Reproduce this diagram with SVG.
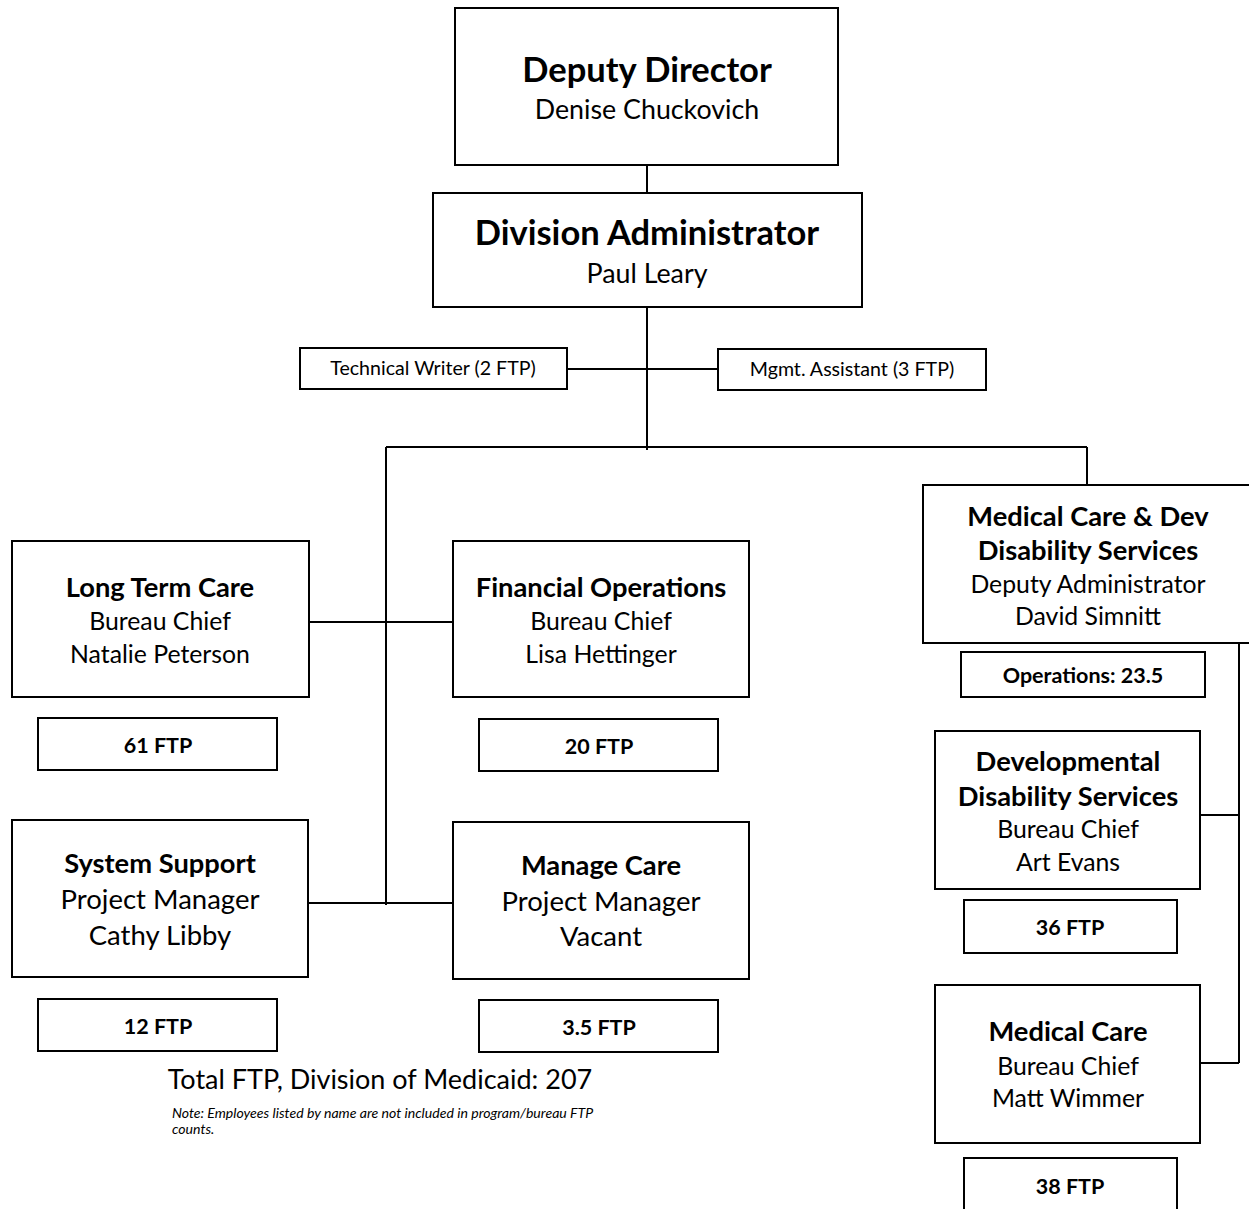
<svg xmlns="http://www.w3.org/2000/svg" width="1249" height="1209" viewBox="0 0 1249 1209">
  <style>
    .box { fill: #fff; stroke: #000; stroke-width: 2; }
    .ln { stroke: #000; stroke-width: 2; fill: none; }
    text { font-family: Lato, "Noto Sans", "Liberation Sans", sans-serif; fill: #000; text-anchor: middle; }
    .big { font-size: 34.5px; font-weight: bold; }
    .top { font-size: 26.8px; }
    .sub { font-size: 24.8px; }
    .pm { font-size: 27.5px; }
    .hd { font-size: 27.3px; font-weight: bold; }
    .sm { font-size: 19.6px; }
    .ftp { font-size: 21.5px; font-weight: bold; }
    .total { font-size: 27px; }
    .note { font-size: 14.1px; font-style: italic; text-anchor: start; }
  </style>

  <!-- reporting lines -->
  <g id="connectors">
    <line class="ln" x1="647" y1="165" x2="647" y2="193"/>
    <line class="ln" x1="647" y1="307" x2="647" y2="450"/>
    <line class="ln" x1="567" y1="369" x2="718" y2="369"/>
    <line class="ln" x1="386" y1="447" x2="1087" y2="447"/>
    <line class="ln" x1="386" y1="447" x2="386" y2="905"/>
    <line class="ln" x1="1087" y1="447" x2="1087" y2="485"/>
    <line class="ln" x1="309" y1="622" x2="453" y2="622"/>
    <line class="ln" x1="308" y1="903" x2="453" y2="903"/>
    <line class="ln" x1="1239" y1="643" x2="1239" y2="1063"/>
    <line class="ln" x1="1200" y1="815" x2="1239" y2="815"/>
    <line class="ln" x1="1200" y1="1063" x2="1239" y2="1063"/>
  </g>

  <g id="deputy-director">
    <rect class="box" x="455" y="8" width="383" height="157"/>
    <text class="big" x="647" y="82">Deputy Director</text>
    <text class="top" x="647" y="119">Denise Chuckovich</text>
  </g>

  <g id="division-administrator">
    <rect class="box" x="433" y="193" width="429" height="114"/>
    <text class="big" x="647" y="245">Division Administrator</text>
    <text class="top" x="647" y="283">Paul Leary</text>
  </g>

  <g id="technical-writer">
    <rect class="box" x="300" y="348" width="267" height="41"/>
    <text class="sm" x="433" y="375">Technical Writer (2 FTP)</text>
  </g>

  <g id="mgmt-assistant">
    <rect class="box" x="718" y="349" width="268" height="41"/>
    <text class="sm" x="852" y="376">Mgmt. Assistant (3 FTP)</text>
  </g>

  <g id="long-term-care">
    <rect class="box" x="12" y="541" width="297" height="156"/>
    <text class="hd" x="160" y="597">Long Term Care</text>
    <text class="sub" x="160" y="630">Bureau Chief</text>
    <text class="sub" x="160" y="663">Natalie Peterson</text>
  </g>
  <g id="long-term-care-ftp">
    <rect class="box" x="38" y="718" width="239" height="52"/>
    <text class="ftp" x="158" y="753">61 FTP</text>
  </g>

  <g id="financial-operations">
    <rect class="box" x="453" y="541" width="296" height="156"/>
    <text class="hd" x="601" y="597">Financial Operations</text>
    <text class="sub" x="601" y="630">Bureau Chief</text>
    <text class="sub" x="601" y="663">Lisa Hettinger</text>
  </g>
  <g id="financial-operations-ftp">
    <rect class="box" x="479" y="719" width="239" height="52"/>
    <text class="ftp" x="599" y="754">20 FTP</text>
  </g>

  <g id="system-support">
    <rect class="box" x="12" y="820" width="296" height="157"/>
    <text class="hd" x="160" y="873">System Support</text>
    <text class="pm" x="160" y="909">Project Manager</text>
    <text class="pm" x="160" y="945">Cathy Libby</text>
  </g>
  <g id="system-support-ftp">
    <rect class="box" x="38" y="999" width="239" height="52"/>
    <text class="ftp" x="158" y="1034">12 FTP</text>
  </g>

  <g id="manage-care">
    <rect class="box" x="453" y="822" width="296" height="157"/>
    <text class="hd" x="601" y="875">Manage Care</text>
    <text class="pm" x="601" y="911">Project Manager</text>
    <text class="pm" x="601" y="946">Vacant</text>
  </g>
  <g id="manage-care-ftp">
    <rect class="box" x="479" y="1000" width="239" height="52"/>
    <text class="ftp" x="599" y="1035">3.5 FTP</text>
  </g>

  <g id="medical-dev-disability">
    <rect class="box" x="923" y="485" width="340" height="158"/>
    <text class="hd" x="1088" y="526">Medical Care &amp; Dev</text>
    <text class="hd" x="1088" y="560">Disability Services</text>
    <text class="sub" x="1088" y="593">Deputy Administrator</text>
    <text class="sub" x="1088" y="625">David Simnitt</text>
  </g>
  <g id="operations-ftp">
    <rect class="box" x="961" y="652" width="244" height="45"/>
    <text class="ftp" x="1083" y="683">Operations: 23.5</text>
  </g>

  <g id="developmental-disability">
    <rect class="box" x="935" y="731" width="265" height="158"/>
    <text class="hd" x="1068" y="771">Developmental</text>
    <text class="hd" x="1068" y="806">Disability Services</text>
    <text class="sub" x="1068" y="838">Bureau Chief</text>
    <text class="sub" x="1068" y="871">Art Evans</text>
  </g>
  <g id="developmental-disability-ftp">
    <rect class="box" x="964" y="900" width="213" height="53"/>
    <text class="ftp" x="1070" y="935">36 FTP</text>
  </g>

  <g id="medical-care">
    <rect class="box" x="935" y="985" width="265" height="158"/>
    <text class="hd" x="1068" y="1041">Medical Care</text>
    <text class="sub" x="1068" y="1075">Bureau Chief</text>
    <text class="sub" x="1068" y="1107">Matt Wimmer</text>
  </g>
  <g id="medical-care-ftp">
    <rect class="box" x="964" y="1158" width="213" height="60"/>
    <text class="ftp" x="1070" y="1194">38 FTP</text>
  </g>

  <g id="totals">
    <text class="total" x="380" y="1089">Total FTP, Division of Medicaid: 207</text>
    <text class="note" x="172" y="1118">Note: Employees listed by name are not included in program/bureau FTP</text>
    <text class="note" x="172" y="1134">counts.</text>
  </g>
</svg>
